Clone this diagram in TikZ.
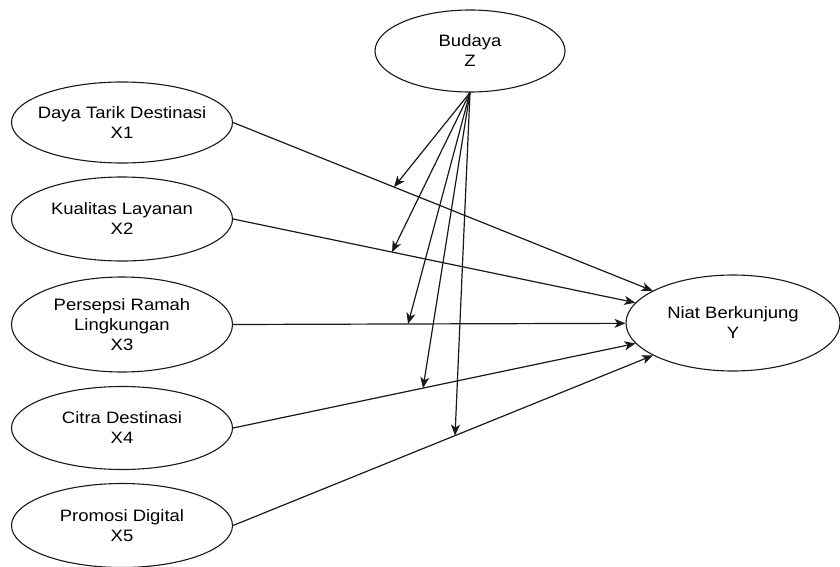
\documentclass[tikz,border=0pt]{standalone}
\usepackage{fontspec}
\newfontfamily\lab[FakeStretch=1.12]{Liberation Sans}
\usetikzlibrary{shapes.geometric,arrows.meta,calc}
\begin{document}
\begin{tikzpicture}[x=1pt,y=-1pt,
  var/.style={draw=black!90, line width=1.1pt, ellipse, inner sep=0pt, fill=white},
  txt/.style={font=\lab\fontsize{16.5}{20}\selectfont, align=center, text=black},
  link/.style={draw=black!90, line width=1.2pt, -{Stealth[length=11pt,width=9pt,inset=3pt]}}]
\useasboundingbox (0,0) rectangle (840,567);

\node[var, minimum width=190pt, minimum height=82pt,
      label={[txt]center:{Budaya\\Z}}] (Z) at (470,51) {};
\node[var, minimum width=221pt, minimum height=81pt,
      label={[txt]center:{Daya Tarik Destinasi\\X1}}] (X1) at (122,122.5) {};
\node[var, minimum width=221pt, minimum height=84pt,
      label={[txt]center:{Kualitas Layanan\\X2}}] (X2) at (122,219) {};
\node[var, minimum width=221pt, minimum height=95pt,
      label={[txt]center:{Persepsi Ramah\\Lingkungan\\X3}}] (X3) at (122,324.5) {};
\node[var, minimum width=221pt, minimum height=83pt,
      label={[txt]center:{Citra Destinasi\\X4}}] (X4) at (122,428) {};
\node[var, minimum width=221pt, minimum height=84pt,
      label={[txt]center:{Promosi Digital\\X5}}] (X5) at (122,525.5) {};
\node[var, minimum width=214pt, minimum height=96pt,
      label={[txt]center:{Niat Berkunjung\\Y}}] (Y) at (733,323) {};

\foreach \i in {1,...,5} {
  \draw[link] (X\i.east) -- (Y);
}

\coordinate (m1) at ($(X1.east)!0.322!(Y.center)$);
\coordinate (m2) at ($(X2.east)!0.318!(Y.center)$);
\coordinate (m3) at ($(X3.east)!0.35!(Y.center)$);
\coordinate (m4) at ($(X4.east)!0.38!(Y.center)$);
\coordinate (m5) at ($(X5.east)!0.444!(Y.center)$);

\foreach \i in {1,...,5} {
  \draw[link] (Z.south) -- (m\i);
}
\end{tikzpicture}
\end{document}
